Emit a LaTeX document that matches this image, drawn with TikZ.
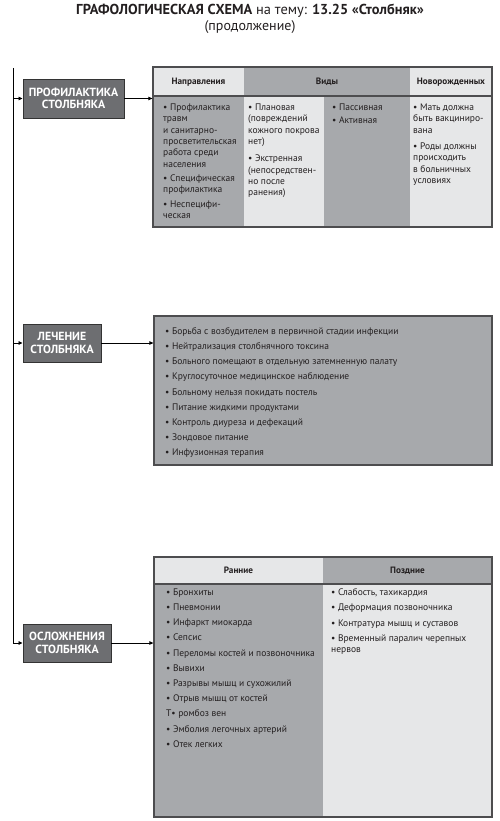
\documentclass[tikz,border=0pt]{standalone}
\usepackage{fontspec}
\setmainfont{PT Sans}
\usetikzlibrary{arrows.meta}
\definecolor{boxdark}{HTML}{6D6E71}
\definecolor{cgray}{HTML}{A7A9AC}
\definecolor{clight}{HTML}{E6E7E8}
\definecolor{cborder}{HTML}{4D4D4F}
\definecolor{ctext}{HTML}{231F20}
\tikzset{
  mainbox/.style={draw=black!80, line width=0.9pt, fill=boxdark, text=white,
    font=\fontsize{11.8}{12.4}\selectfont\bfseries, align=center, inner sep=0pt},
  frame/.style={draw=cborder, line width=1.3pt, inner sep=0pt},
  hdr/.style={font=\fontsize{9.2}{10}\selectfont\bfseries, text=ctext, inner sep=0pt},
  txt/.style={font=\fontsize{9.5}{11.3}\selectfont, text=ctext, align=left, anchor=north west, inner sep=0pt},
  ltxt/.style={font=\fontsize{9.5}{15.2}\selectfont, text=ctext, align=left, anchor=north west, inner sep=0pt},
  arr/.style={line width=0.8pt, -{Triangle[length=4pt,width=3.6pt]}},
  spine/.style={line width=1pt}
}
\begin{document}
\begin{tikzpicture}[x=1pt,y=-1pt]
\useasboundingbox (0,0) rectangle (500,821);
% title
\node[font=\fontsize{14.4}{16}\selectfont, text=ctext] (title) at (250,10.5) {\textbf{ГРАФОЛОГИЧЕСКАЯ СХЕМА} на тему: \textbf{13.25 «Столбняк»}};
\node[font=\fontsize{14}{16}\selectfont, text=ctext] (subtitle) at (250,27) {(продолжение)};

% ---------- table 1 fills ----------
\fill[clight] (153,67) rectangle (244,96);
\fill[cgray] (244,67) rectangle (410,96);
\fill[clight] (410,67) rectangle (492,96);
\fill[cgray] (153,96) rectangle (244,227);
\fill[clight] (244,96) rectangle (324,227);
\fill[cgray] (324,96) rectangle (410,227);
\fill[clight] (410,96) rectangle (492,227);
\draw[cborder, line width=1.1pt] (153,96) -- (492,96);
\node[frame, minimum width=339pt, minimum height=160pt] (t1) at (322.5,147) {};
\node[hdr] (h1) at (198.5,82) {Направления};
\node[hdr] (h2) at (327,82) {Виды};
\node[hdr] (h3) at (451,82) {Новорожденных};
\node[txt] (c1) at (163,102.5) {\strut• Профилактика\\травм\\и санитарно-\\просветительская\\работа среди\\населения\\[3pt]• Специфическая\\профилактика\\[3pt]• Неспецифи-\\ческая};
\node[txt] (c2) at (248,102.5) {\strut• Плановая\\(повреждений\\кожного покрова\\нет)\\[6pt]• Экстренная\\(непосредствен-\\но после\\ранения)};
\node[txt] (c3) at (332,102.5) {\strut• Пассивная\\[2pt]• Активная};
\node[txt] (c4) at (413,102.5) {\strut• Мать должна\\быть вакциниро-\\вана\\[5pt]• Роды должны\\происходить\\в больничных\\условиях};

% ---------- treatment list ----------
\node[frame, fill=cgray, minimum width=338pt, minimum height=149pt] (lst) at (323,390.5) {};
\node[ltxt] (l1) at (165,323.5) {\strut• Борьба с возбудителем в первичной стадии инфекции\\• Нейтрализация столбнячного токсина\\• Больного помещают в отдельную затемненную палату\\• Круглосуточное медицинское наблюдение\\• Больному нельзя покидать постель\\• Питание жидкими продуктами\\• Контроль диуреза и дефекаций\\• Зондовое питание\\• Инфузионная терапия};

% ---------- complications table ----------
\fill[clight] (154,557) rectangle (323,584);
\fill[cgray] (323,557) rectangle (492,584);
\fill[cgray] (154,584) rectangle (323,817);
\fill[clight] (323,584) rectangle (492,817);
\draw[cborder, line width=1.1pt] (154,584) -- (492,584);
\node[frame, minimum width=338pt, minimum height=260pt] (t3) at (323,687) {};
\node[hdr] (h4) at (238.5,570.5) {Ранние};
\node[hdr] (h5) at (407.5,570.5) {Поздние};
\node[ltxt] (e1) at (166,584.5) {\strut• Бронхиты\\• Пневмонии\\• Инфаркт миокарда\\• Сепсис\\• Переломы костей и позвоночника\\• Вывихи\\• Разрывы мышц и сухожилий\\• Отрыв мышц от костей\\Т• ромбоз вен\\• Эмболия легочных артерий\\• Отек легких};
\node[txt, font=\fontsize{9.5}{11}\selectfont] (e2) at (331,587.8) {\strut• Слабость, тахикардия\\[4.2pt]• Деформация позвоночника\\[4.2pt]• Контратура мышц и суставов\\[4.2pt]• Временный паралич черепных\\нервов};

% ---------- main boxes ----------
\node[mainbox, minimum width=101pt, minimum height=39pt] (prof) at (73.5,98.5) {ПРОФИЛАКТИКА\\СТОЛБНЯКА};
\node[mainbox, minimum width=78pt, minimum height=38pt] (lech) at (62,343) {ЛЕЧЕНИЕ\\СТОЛБНЯКА};
\node[mainbox, minimum width=88pt, minimum height=38pt] (osl) at (67,643) {ОСЛОЖНЕНИЯ\\СТОЛБНЯКА};

% ---------- connectors ----------
\coordinate (top) at (13,68);
\draw[spine] (top) -- (top |- osl.west);
\draw[arr] (top |- osl.west) -- (osl.west);
\draw[arr] (top |- prof.west) -- (prof.west);
\draw[arr] (top |- lech.west) -- (lech.west);
\draw[arr] (prof.east) -- (prof.east -| t1.west);
\draw[arr] (lech.east) -- (lech.east -| lst.west);
\draw[arr] (osl.east) -- (osl.east -| t3.west);
\end{tikzpicture}
\end{document}
